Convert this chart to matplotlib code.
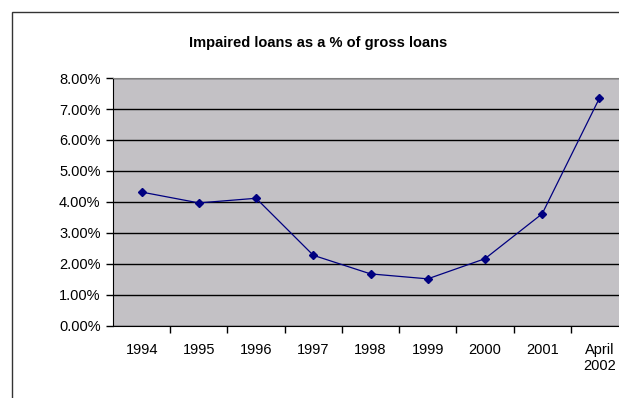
import matplotlib.pyplot as plt
from matplotlib.patches import Rectangle
from matplotlib.ticker import FixedLocator, PercentFormatter

plt.rcParams['font.family'] = ['Liberation Sans Narrow', 'Liberation Sans', 'DejaVu Sans']

years = ["1994", "1995", "1996", "1997", "1998", "1999", "2000", "2001", "April\n2002"]
impaired = [4.32, 3.97, 4.12, 2.28, 1.68, 1.52, 2.17, 3.62, 7.35]

fig = plt.figure(figsize=(6.19, 3.98), dpi=100)
ax = fig.add_axes([0.1826, 0.181, 0.832, 0.623])

# outer chart frame
fig.patches.append(Rectangle((12 / 619, -0.05), 1.1, 1 - 12 / 398 + 0.05,
                             transform=fig.transFigure, fill=False,
                             edgecolor="#333333", linewidth=1.0))

ax.set_facecolor("#c3c1c5")
x = list(range(len(years)))
ax.plot(x, impaired, color="#000080", linewidth=0.9, marker="D", markersize=4,
        markerfacecolor="#000080", markeredgecolor="#000080", zorder=3)

ax.set_xlim(-0.5, len(years) - 0.5)
ax.set_ylim(0, 8)
ax.set_yticks([0, 1, 2, 3, 4, 5, 6, 7, 8])
ax.yaxis.set_major_formatter(PercentFormatter(decimals=2))
ax.grid(axis="y", color="black", linewidth=1.0)
ax.set_axisbelow(True)

ax.set_xticks(x)
ax.set_xticklabels(years)
ax.xaxis.set_minor_locator(FixedLocator([i + 0.5 for i in x]))
ax.tick_params(axis="x", which="major", length=0, pad=12, labelsize=10.5)
ax.tick_params(axis="x", which="minor", length=5, width=1, direction="out")
ax.tick_params(axis="y", length=5, width=1, direction="out", labelsize=10.5, pad=4)

ax.spines["top"].set_color("#808080")
ax.spines["right"].set_visible(False)
ax.spines["left"].set_color("black")
ax.spines["bottom"].set_color("black")

fig.text(318 / 619, 1 - 43 / 398, "Impaired loans as a % of gross loans",
         ha="center", va="center", fontsize=10.5, fontweight="bold")

fig.savefig("out.png", dpi=100, facecolor="white")
